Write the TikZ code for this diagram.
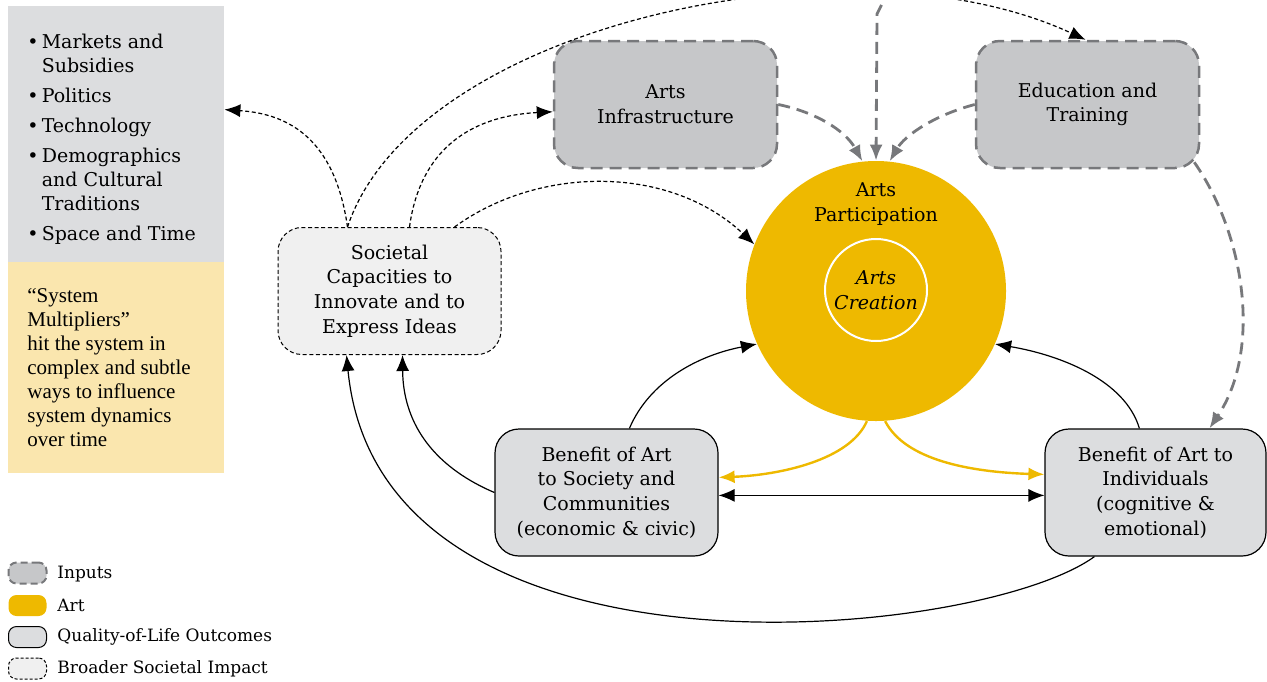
\documentclass[tikz,border=0pt]{standalone}
\usepackage{fontspec}
\setmainfont{DejaVu Serif}
\newfontfamily\notefont{Liberation Serif}
\usetikzlibrary{arrows.meta,calc}
\definecolor{artgold}{RGB}{238,185,0}
\definecolor{inputfill}{RGB}{198,199,201}
\definecolor{inputgray}{RGB}{119,120,123}
\definecolor{outcomefill}{RGB}{220,221,223}
\definecolor{impactfill}{RGB}{240,240,240}
\definecolor{notefill}{RGB}{250,230,174}
\begin{document}
\begin{tikzpicture}[x=0.5pt,y=-0.5pt,
    font=\fontsize{9.5}{12.3}\selectfont,
    box/.style={rounded corners=12pt,minimum width=111.5pt,minimum height=63.5pt,align=center,inner sep=2pt},
    inputbox/.style={box,fill=inputfill,draw=inputgray,line width=1.25pt,dash pattern=on 6pt off 3.5pt},
    outcomebox/.style={box,fill=outcomefill,draw=black,line width=0.6pt},
    impactbox/.style={box,fill=impactfill,draw=black,line width=0.5pt,dash pattern=on 2pt off 1.3pt},
    link/.style={line width=0.6pt,-{Latex[length=8pt,width=6.5pt]}},
    bothlink/.style={line width=0.6pt,{Latex[length=8pt,width=6.5pt]}-{Latex[length=8pt,width=6.5pt]}},
    impactlink/.style={link,dash pattern=on 2pt off 1.3pt},
    inputlink/.style={draw=inputgray,line width=1.4pt,dash pattern=on 6pt off 3.5pt,-{Latex[length=8pt,width=6.5pt]}},
    artlink/.style={draw=artgold,line width=1.2pt,-{Latex[length=8pt,width=6.5pt]}},
    keybox/.style={rounded corners=4pt,minimum width=19pt,minimum height=10.5pt,inner sep=0pt},
    keytext/.style={anchor=west,inner sep=0pt,font=\fontsize{8.5}{10}\selectfont}]
    \useasboundingbox (0,0) rectangle (1267,681);
    \clip (0,0) rectangle (1267,681);

    \node[fill=outcomefill,minimum width=108pt,minimum height=128pt,inner sep=0pt] (mult) at (116,134) {};
    \node[fill=notefill,minimum width=108pt,minimum height=105.5pt,inner sep=0pt] (note) at (116,367.5) {};
    \node[anchor=north west,inner sep=0pt,font=\fontsize{9.5}{12}\selectfont] (multlist) at (27,31) {%
        \begin{tabular}{@{}l@{\,}l@{}}
            \textbullet & Markets and\\ & Subsidies\\[3pt]
            \textbullet & Politics\\[3pt]
            \textbullet & Technology\\[3pt]
            \textbullet & Demographics\\ & and Cultural\\ & Traditions\\[3pt]
            \textbullet & Space and Time
        \end{tabular}};
    \node[anchor=north west,inner sep=0pt,align=left,font=\notefont\fontsize{10.5}{12}\selectfont] (notetext) at (27,288)
        {“System\\Multipliers”\\hit the system in\\complex and subtle\\ways to influence\\system dynamics\\over time};

    \node[inputbox] (infra) at (665.5,104.5) {Arts\\Infrastructure};
    \node[inputbox] (edu) at (1087.5,104.5) {Education and\\Training};
    \node[impactbox] (soc) at (389.5,291) {Societal\\Capacities to\\Innovate and to\\Express Ideas};
    \node[outcomebox] (bsoc) at (606.5,492.5) {Benefit of Art\\to Society and\\Communities\\(economic \& civic)};
    \node[outcomebox,minimum width=110.5pt] (bind) at (1155.5,492.5) {Benefit of Art to\\Individuals\\(cognitive \&\\emotional)};

    \node[circle,fill=artgold,minimum size=130pt,inner sep=0pt] (part) at (876,291) {};
    \node[align=center] (parttext) at (876,204) {Arts\\Participation};
    \node[circle,draw=white,line width=1pt,minimum size=51pt,inner sep=0pt,align=center,font=\fontsize{9.5}{12.3}\selectfont\itshape] (create) at (876,290) {Arts\\Creation};

    \coordinate (topin) at (890,-12);
    \coordinate (topbend) at (877,14);

    \draw[impactlink] ($(soc.north west)+(70,0)$) .. controls (335,140) and (290,114) .. ($(mult.north east)+(0,104)$);
    \draw[impactlink] ($(soc.north west)+(70,0)$) .. controls (415,25) and (850,-70) .. ($(edu.north)+(-2,0)$);
    \draw[impactlink] ($(soc.north west)+(132,0)$) .. controls (420,150) and (470,116) .. ($(infra.north west)+(0,72)$);
    \draw[impactlink] ($(soc.north west)+(177,0)$) .. controls (540,165) and (670,165) .. (part.159);

    \draw[inputlink] (infra.east) .. controls (815,112) and (845,130) .. (part.96);
    \draw[inputlink] (edu.west) .. controls (935,115) and (905,135) .. (part.84);
    \draw[inputlink] (topin) -- (topbend) -- (part.90);
    \draw[inputlink] ($(edu.south east)+(-6,-7)$) .. controls (1245,235) and (1262,350) .. ($(bind.north west)+(165,0)$);

    \draw[link] ($(bsoc.north west)+(135,0)$) .. controls (650,380) and (700,355) .. (part.204);
    \draw[link] ($(bind.north west)+(95,0)$) .. controls (1125,380) and (1060,355) .. (part.336);
    \draw[link] (bsoc.west) .. controls (430,465) and (403,420) .. ($(soc.south west)+(125,0)$);
    \draw[link] ($(bind.south west)+(50,0)$) .. controls (980,640) and (380,700) .. ($(soc.south west)+(69,0)$);
    \draw[bothlink] ($(bsoc.north east)+(0,67)$) -- ($(bind.north west)+(0,67)$);

    \draw[artlink] (part.266) .. controls (850,460) and (780,475) .. ($(bsoc.north east)+(0,49)$);
    \draw[artlink] (part.274) .. controls (905,460) and (970,472) .. ($(bind.north west)+(0,46)$);

    \node[keybox,fill=inputfill,draw=inputgray,line width=1pt,dash pattern=on 3.5pt off 2pt] (keyin) at (27.5,573) {};
    \node[keybox,fill=artgold] (keyart) at (27.5,605.5) {};
    \node[keybox,fill=outcomefill,draw=black,line width=0.5pt] (keyqol) at (27.5,637) {};
    \node[keybox,fill=impactfill,draw=black,line width=0.5pt,dash pattern=on 1.5pt off 1pt] (keysoc) at (27.5,668.5) {};
    \node[keytext] (keyintext) at (57,574) {Inputs};
    \node[keytext] (keyarttext) at (57,605.5) {Art};
    \node[keytext] (keyqoltext) at (57,637) {Quality-of-Life Outcomes};
    \node[keytext] (keysoctext) at (57,668.5) {Broader Societal Impact};
\end{tikzpicture}
\end{document}
